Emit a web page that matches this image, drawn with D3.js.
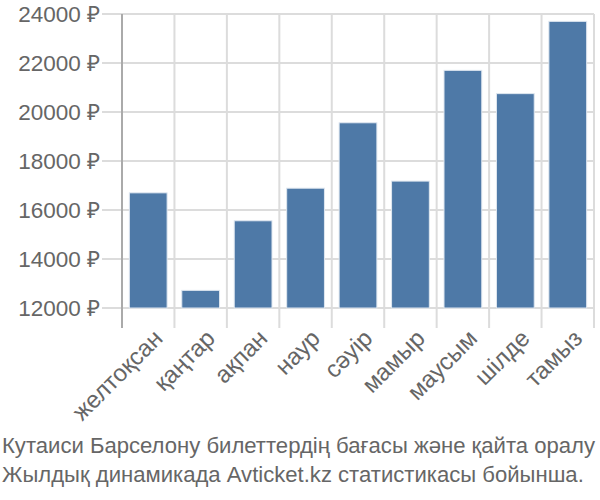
<!DOCTYPE html>
<html>
<head>
<meta charset="utf-8">
<script src="https://cdn.jsdelivr.net/npm/d3@7"></script>
<style>
  body { margin: 0; background: #fff; }
  svg { display: block; font-family: "Liberation Sans", Arial, sans-serif; }
</style>
</head>
<body>
<svg class="chart" width="600" height="500"></svg>
<script>
const months = ["желтоқсан", "қаңтар", "ақпан", "наур", "сәуір", "мамыр", "маусым", "шілде", "тамыз"];
const prices = [16700, 12720, 15560, 16890, 19560, 17180, 21700, 20750, 23700];
const yTicks = [12000, 14000, 16000, 18000, 20000, 22000, 24000];
const titleLines = [
  "Кутаиси Барселону билеттердің бағасы және қайта оралу",
  "Жылдық динамикада Avticket.kz статистикасы бойынша."
];

const svg = d3.select(".chart");

const plotLeft = 122, plotRight = 594, plotTop = 14, plotBottom = 308;

const x = d3.scaleBand().domain(months).range([plotLeft, plotRight]).padding(0);
const y = d3.scaleLinear().domain([12000, 24000]).range([plotBottom, plotTop]);

// horizontal grid + y labels
const yg = svg.append("g");
yg.selectAll("line")
  .data(yTicks)
  .enter()
  .append("line")
  .attr("x1", plotLeft - 20)
  .attr("x2", plotRight)
  .attr("y1", (d) => y(d))
  .attr("y2", (d) => y(d))
  .attr("stroke", "#dcdcdc")
  .attr("stroke-width", 2);

yg.selectAll("text")
  .data(yTicks)
  .enter()
  .append("text")
  .attr("x", plotLeft - 22)
  .attr("y", (d) => y(d))
  .attr("dy", "0.35em")
  .attr("text-anchor", "end")
  .attr("fill", "#666")
  .style("font-size", "22.5px")
  .text((d) => d + " ₽");

// vertical grid at band boundaries
const bounds = months.map((m) => x(m)).concat([plotRight]);
svg.append("g")
  .selectAll("line")
  .data(bounds.slice(1))
  .enter()
  .append("line")
  .attr("x1", (d) => d)
  .attr("x2", (d) => d)
  .attr("y1", plotTop)
  .attr("y2", plotBottom + 20)
  .attr("stroke", "#dcdcdc")
  .attr("stroke-width", 2);

// bars
const barW = x.bandwidth() * 0.72;
svg.append("g")
  .selectAll("rect")
  .data(prices)
  .enter()
  .append("rect")
  .attr("x", (d, i) => x(months[i]) + (x.bandwidth() - barW) / 2)
  .attr("y", (d) => y(d))
  .attr("width", barW)
  .attr("height", (d) => plotBottom - y(d))
  .attr("fill", "#4e79a7")
  .attr("stroke", "#dfe7f0")
  .attr("stroke-width", 1);

// y axis line
svg.append("line")
  .attr("x1", plotLeft)
  .attr("x2", plotLeft)
  .attr("y1", plotTop)
  .attr("y2", plotBottom + 20)
  .attr("stroke", "#aaa")
  .attr("stroke-width", 2);

// x labels rotated
svg.append("g")
  .selectAll("text")
  .data(months)
  .enter()
  .append("text")
  .attr("transform", (d) => `translate(${x(d) + x.bandwidth() / 2 + 4}, ${plotBottom + 20}) rotate(-45)`)
  .attr("text-anchor", "end")
  .attr("dy", "0.7em")
  .attr("fill", "#666")
  .style("font-size", "24px")
  .text((d) => d);

// caption
svg.append("g")
  .selectAll("text")
  .data(titleLines)
  .enter()
  .append("text")
  .attr("x", 2)
  .attr("y", (d, i) => 453 + i * 29)
  .attr("fill", "#666")
  .style("font-size", "22.1px")
  .text((d) => d);
</script>
</body>
</html>
